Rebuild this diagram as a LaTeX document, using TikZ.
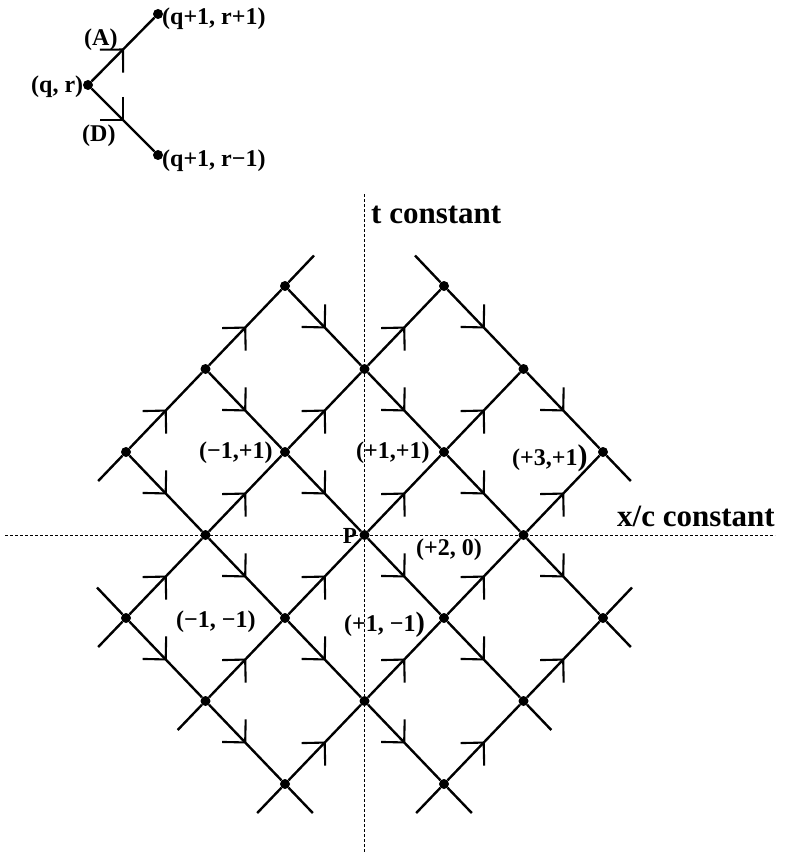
\documentclass[tikz,border=0pt]{standalone}
\usepackage{fontspec}
\setmainfont{Liberation Serif}
\usetikzlibrary{calc,decorations.markings}
\begin{document}
\begin{tikzpicture}[x=1pt,y=-1pt,
  dot/.style={circle,fill=black,inner sep=0pt,minimum size=10pt},
  lat/.style={line width=2.4pt},
  flow/.style={lat,postaction={decorate},decoration={markings,mark=at position 0.5 with {\draw[line width=2.1pt] (-16.3pt,16.3pt) -- (0pt,0pt) -- (-16.3pt,-16.3pt);}}},
  axis/.style={line width=1pt,dash pattern=on 3pt off 2pt},
  lab/.style={font=\bfseries\fontsize{24}{24}\selectfont,inner sep=0pt,anchor=base west},
  biglab/.style={font=\bfseries\fontsize{31}{31}\selectfont,inner sep=0pt,anchor=base west},
  plab/.style={font=\bfseries\fontsize{23}{23}\selectfont,inner sep=0pt,anchor=base east}]
\useasboundingbox (0,0) rectangle (785,853);

% axes
\coordinate (vt) at (364.5,194);
\coordinate (vb) at (364.5,853);
\coordinate (hl) at (5,535);
\coordinate (hr) at (775,535);
\draw[axis] (vt) -- (vb);
\draw[axis] (hl) -- (hr);

% lattice points
\foreach \i/\j in {2/0,4/0,1/1,3/1,5/1,0/2,2/2,4/2,6/2,1/3,3/3,5/3,0/4,2/4,4/4,6/4,1/5,3/5,5/5,2/6,4/6}
  \node[dot] (n\i\j) at ({126+79.5*\i},{286+83*\j}) {};

% up-right edges
\foreach \a/\b in {02/11,11/20,04/13,13/22,22/31,31/40,15/24,24/33,33/42,42/51,26/35,35/44,44/53,53/62,46/55,55/64}
  \draw[flow] (n\a) -- (n\b);
% down-right edges
\foreach \a/\b in {04/15,15/26,02/13,13/24,24/35,35/46,11/22,22/33,33/44,44/55,20/31,31/42,42/53,53/64,40/51,51/62}
  \draw[flow] (n\a) -- (n\b);

% stubs
\foreach \n in {02,04,15,26,46} {
  \coordinate (sdl\n) at ($(n\n)+(-27.8,29)$);
  \draw[lat] (n\n) -- (sdl\n);
}
\foreach \n in {20,64} {
  \coordinate (sur\n) at ($(n\n)+(29,-30.5)$);
  \draw[lat] (n\n) -- (sur\n);
}
\foreach \n in {26,46,55,64,62} {
  \coordinate (sdr\n) at ($(n\n)+(27.8,29)$);
  \draw[lat] (n\n) -- (sdr\n);
}
\foreach \n in {04,40} {
  \coordinate (sul\n) at ($(n\n)+(-29,-30.5)$);
  \draw[lat] (n\n) -- (sul\n);
}

% inset
\node[dot] (qr) at (88,85) {};
\node[dot] (qu) at (158,14) {};
\node[dot] (ql) at (158,155) {};
\draw[flow] (qr) -- (qu);
\draw[flow] (qr) -- (ql);
\node[lab] (lA) at (84,46) {(A)};
\node[lab] (lD) at (82,142) {(D)};
\node[lab] (lqr) at (31,93) {(q, r)};
\node[lab] (lup) at (162,25) {(q+1, r+1)};
\node[lab] (llo) at (162,167) {(q+1, r−1)};

% labels
\node[biglab] (tc) at (371,223) {t constant};
\node[biglab] (xc) at (617,526) {x/c constant};
\node[plab] (P) at (357,543) {P};
\node[lab] (m11) at (199,458) {(−1,+1)};
\node[lab] (p11) at (356,458) {(+1,+1)};
\node[lab] (p31) at (512,465) {(+3,+1{\fontsize{30}{30}\selectfont)}};
\node[lab] (p20) at (416,555) {(+2, 0)};
\node[lab] (m1m1) at (176,627) {(−1, −1)};
\node[lab] (p1m1) at (344,631) {(+1, −1{\fontsize{28}{28}\selectfont)}};
\end{tikzpicture}
\end{document}
